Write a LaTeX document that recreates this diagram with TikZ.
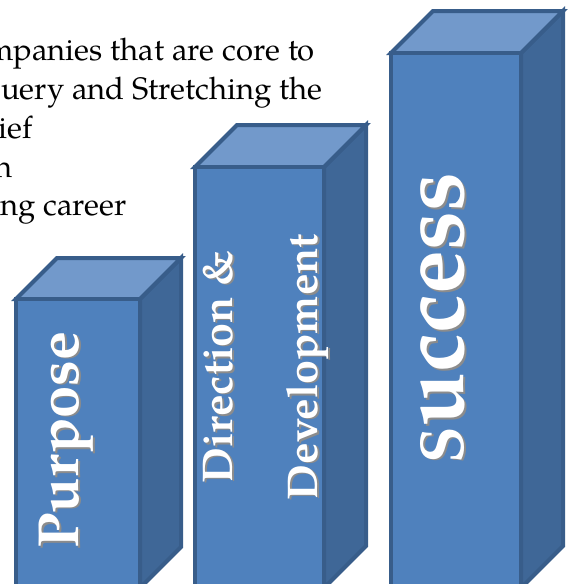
\documentclass[tikz,border=0pt]{standalone}
\usepackage{fontspec}
\setmainfont{TeX Gyre Pagella}
\usepackage{graphicx}

\definecolor{frontblue}{HTML}{4F81BD}
\definecolor{topblue}{HTML}{7299CB}
\definecolor{sideblue}{HTML}{3F6797}
\definecolor{edgeblue}{HTML}{385D8A}
\definecolor{lettershade}{HTML}{8C8C8C}

% white lettering with a grey relief towards the lower right
\newcommand{\embossed}[1]{%
  \rlap{\hspace{-1.5pt}\raisebox{-2pt}{\color{lettershade}#1}}{\color{white}#1}}

\tikzset{
  x=1pt, y=-1pt,
  face/.style={draw=edgeblue, line width=4pt, line join=miter},
  bartext/.style={rotate=90, anchor=base, inner sep=0pt, font=\bfseries},
  bodytext/.style={anchor=base east, inner sep=0pt,
    font=\fontsize{31}{36}\selectfont, text=black},
}

% cuboid: left, top, width, depth, bottom of the front face
\newcommand{\cuboid}[5]{%
  \filldraw[face, fill=sideblue] (#1+#3,#2) -- ++(#4,-#4) -- (#1+#3+#4,#5-#4)
    -- (#1+#3,#5) -- cycle;
  \filldraw[face, fill=topblue] (#1,#2) -- ++(#4,-#4) -- ++(#3,0)
    -- (#1+#3,#2) -- cycle;
  \filldraw[face, fill=frontblue] (#1,#2) rectangle (#1+#3,#5);
}

\begin{document}
\begin{tikzpicture}
  \useasboundingbox (0,0) rectangle (572,584);
  \clip (0,0) rectangle (572,584);

  % paragraph running in from the left margin
  \node[bodytext] (lineA) at (315,60) {mpanies that are core to};
  \node[bodytext] (lineB) at (323,99) {uery and Stretching the};
  \node[bodytext] (lineC) at (33,138) {ief};
  \node[bodytext] (lineD) at (13,177) {n};
  \node[bodytext] (lineE) at (127,215) {ng career};

  % the three steps
  \cuboid{16}{299}{124}{41}{588}
  \cuboid{195}{167}{129}{42}{588}
  \cuboid{391}{53}{130}{42}{588}

  \node[bartext, font=\bfseries\fontsize{58}{60}\selectfont] (purpose) at (78,440)
    {\embossed{Purpose}};
  \node[bartext, font=\bfseries\fontsize{43}{45}\selectfont] (direction) at (232,367)
    {\embossed{Direction \&}};
  \node[bartext, font=\bfseries\fontsize{43}{45}\selectfont] (development) at (317,367)
    {\embossed{Development}};
  \node[bartext] (success) at (463,318)
    {\embossed{\resizebox{290pt}{43pt}{\scalebox{0.68}{S}uccess}}};
\end{tikzpicture}
\end{document}
